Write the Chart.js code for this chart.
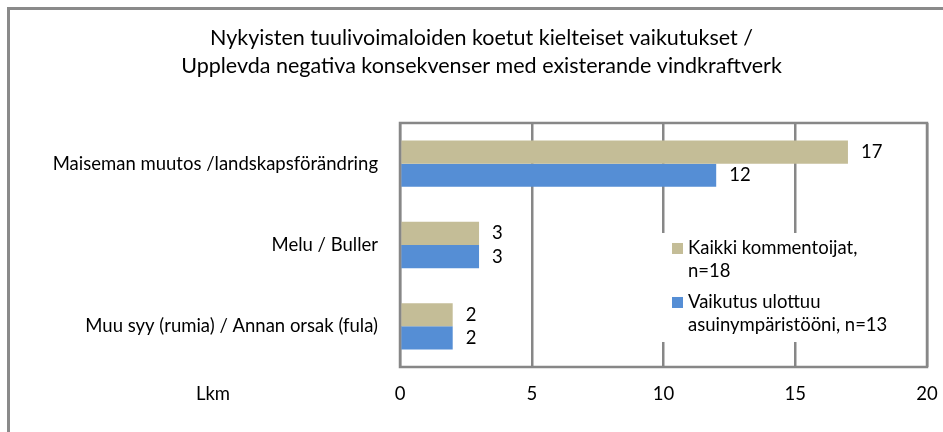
<!DOCTYPE html>
<html>
<head>
<meta charset="utf-8">
<script src="https://cdn.jsdelivr.net/npm/chart.js@4"></script>
<style>
  html, body { margin: 0; padding: 0; background: #fff; }
  #wrap { position: relative; width: 943px; height: 432px; overflow: hidden; }
  #frame { position: absolute; left: 7px; top: 7px; width: 1000px; height: 1000px;
           border-top: 3px solid #8a8a8a; border-left: 3px solid #8a8a8a; box-sizing: border-box; }
  canvas { position: absolute; left: 0; top: 0; }
</style>
</head>
<body>
<div id="wrap">
  <div id="frame"></div>
  <canvas id="myChart" width="943" height="432"></canvas>
</div>
<script>
const categories = [
  'Maiseman muutos /landskapsförändring',
  'Melu / Buller',
  'Muu syy (rumia) / Annan orsak (fula)'
];
const allValues = [17, 3, 2];
const localValues = [12, 3, 2];
const seriesNames = [
  ['Kaikki kommentoijat,', 'n=18'],
  ['Vaikutus ulottuu', 'asuinympäristööni, n=13']
];
const xTicks = [0, 5, 10, 15, 20];
const titleLines = [
  'Nykyisten tuulivoimaloiden koetut kielteiset vaikutukset /',
  'Upplevda negativa konsekvenser med existerande vindkraftverk'
];

const FONT = 'Lato, "Liberation Sans", sans-serif';
const SIZE = 18.5;
const GRID = '#878787';

const extras = {
  id: 'extras',
  afterDatasetsDraw(chart) {
    const ctx = chart.ctx;
    const area = chart.chartArea;
    ctx.save();
    // value labels
    ctx.font = SIZE + 'px ' + FONT;
    ctx.fillStyle = '#000';
    ctx.textBaseline = 'middle';
    ctx.textAlign = 'left';
    chart.data.datasets.forEach((ds, i) => {
      chart.getDatasetMeta(i).data.forEach((bar, j) => {
        ctx.fillText(ds.data[j], bar.x + 13, bar.y);
      });
    });
    // plot frame
    ctx.strokeStyle = GRID;
    ctx.lineWidth = 2.5;
    ctx.strokeRect(area.left, area.top, area.right - area.left, area.bottom - area.top);
    // legend box
    ctx.fillStyle = '#fff';
    ctx.fillRect(area.left + 262, area.top + 110, 258, 109);
    const lx = area.left + 272;
    let ly = area.top + 125;
    chart.data.datasets.forEach((ds, i) => {
      ctx.fillStyle = ds.backgroundColor;
      ctx.fillRect(lx, ly - 5, 11, 11);
      ctx.fillStyle = '#000';
      ds.label.forEach((t, k) => {
        ctx.fillText(t, lx + 16, ly + k * 23);
      });
      ly += 54;
    });
    // axis caption
    ctx.textAlign = 'center';
    ctx.fillText('Lkm', 213, area.bottom + 27);
    ctx.restore();
  }
};

new Chart(document.getElementById('myChart'), {
  type: 'bar',
  data: {
    labels: categories,
    datasets: [{
      label: seriesNames[0],
      data: allValues,
      backgroundColor: '#c4bd97'
    }, {
      label: seriesNames[1],
      data: localValues,
      backgroundColor: '#558ed5'
    }]
  },
  options: {
    indexAxis: 'y',
    responsive: false,
    animation: false,
    layout: { padding: { left: 20, right: 0, bottom: 0 } },
    datasets: { bar: { categoryPercentage: 0.57, barPercentage: 1 } },
    plugins: {
      legend: { display: false },
      tooltip: { enabled: false },
      title: {
        display: true,
        text: titleLines,
        color: '#000',
        font: { family: FONT, size: 21.5, weight: 'normal', lineHeight: 1.302 },
        padding: { top: 24, bottom: 43 }
      }
    },
    scales: {
      x: {
        min: 0, max: 20,
        afterBuildTicks: (s) => { s.ticks = xTicks.map(v => ({ value: v })); },
        afterFit: (s) => { s.height = 65; s.paddingRight = 16; s.paddingLeft = 0; },
        grid: { color: GRID, lineWidth: 2.5, drawTicks: false },
        border: { display: false },
        ticks: { color: '#000', padding: 16, font: { family: FONT, size: SIZE } }
      },
      y: {
        afterFit: (s) => { s.width = 380; },
        grid: { display: false, drawTicks: false },
        border: { display: false },
        ticks: { color: '#000', padding: 22, font: { family: FONT, size: SIZE } }
      }
    }
  },
  plugins: [extras]
});
</script>
</body>
</html>
